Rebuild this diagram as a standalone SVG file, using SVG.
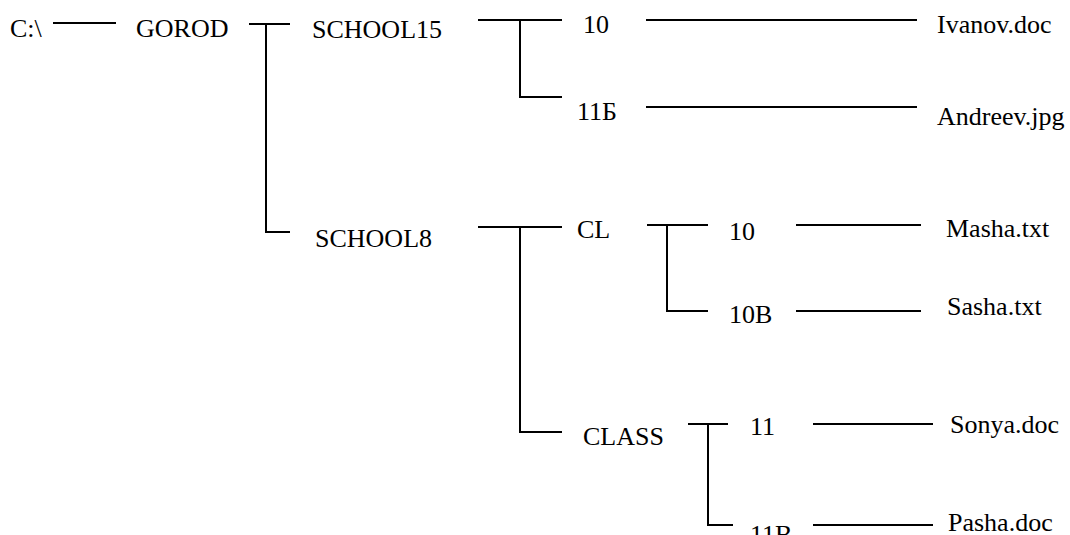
<svg xmlns="http://www.w3.org/2000/svg" width="1070" height="535" viewBox="0 0 1070 535">
<style>
text{font-family:"Liberation Serif",serif;font-size:26px;fill:#000}
.c line,.c path{stroke:#000;stroke-width:2;fill:none}
</style>
<rect width="1070" height="535" fill="#fff"/>
<g class="c" id="connectors">
<line x1="53" y1="23" x2="116" y2="23"/>
<line x1="249" y1="24" x2="290" y2="24"/>
<path d="M266 24V232H290"/>
<line x1="478" y1="20" x2="562" y2="20"/>
<path d="M520 20V97H562"/>
<line x1="646" y1="20" x2="917" y2="20"/>
<line x1="646" y1="107" x2="917" y2="107"/>
<line x1="478" y1="227" x2="562" y2="227"/>
<path d="M520 227V432H562"/>
<line x1="647" y1="225" x2="708" y2="225"/>
<path d="M667 225V311H708"/>
<line x1="796" y1="225" x2="921" y2="225"/>
<line x1="796" y1="311" x2="921" y2="311"/>
<line x1="688" y1="424" x2="728" y2="424"/>
<path d="M708 424V525H733"/>
<line x1="813" y1="424" x2="933" y2="424"/>
<line x1="813" y1="525" x2="933" y2="525"/>
</g>
<g id="root"><text x="10" y="37">C:\</text></g>
<g id="gorod"><text x="136" y="37">GOROD</text></g>
<g id="school15"><text x="312" y="38">SCHOOL15</text></g>
<g id="s15-10"><text x="583" y="33">10</text></g>
<g id="ivanov"><text x="937" y="33">Ivanov.doc</text></g>
<g id="s15-11b"><text x="577" y="120">11Б</text></g>
<g id="andreev"><text x="937" y="125">Andreev.jpg</text></g>
<g id="school8"><text x="315" y="247">SCHOOL8</text></g>
<g id="cl"><text x="577" y="238">CL</text></g>
<g id="cl-10"><text x="729" y="240">10</text></g>
<g id="masha"><text x="946" y="237">Masha.txt</text></g>
<g id="cl-10b"><text x="729" y="323">10B</text></g>
<g id="sasha"><text x="947" y="315">Sasha.txt</text></g>
<g id="class"><text x="583" y="445">CLASS</text></g>
<g id="class-11"><text x="750" y="435">11</text></g>
<g id="sonya"><text x="950" y="433">Sonya.doc</text></g>
<g id="class-11b"><text x="750" y="543">11B</text></g>
<g id="pasha"><text x="948" y="531">Pasha.doc</text></g>
</svg>
